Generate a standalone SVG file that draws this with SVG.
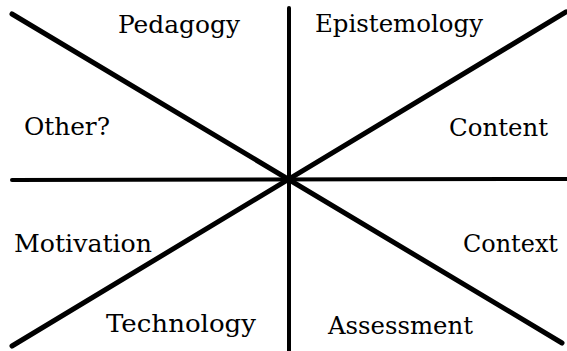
<svg xmlns="http://www.w3.org/2000/svg" width="567" height="351" viewBox="0 0 567 351">
<style>
.ln{stroke:#000;fill:none;stroke-linecap:round}
.ax{stroke-width:4}
.dg{stroke-width:5}
text{font-family:"DejaVu Serif","Liberation Serif",serif;font-size:25px;fill:#000}
</style>
<rect width="567" height="351" fill="#fff"/>
<g id="connectors">
<line class="ln ax" x1="289" y1="8" x2="289" y2="351"/>
<line class="ln ax" x1="12" y1="180" x2="567" y2="179"/>
<line class="ln dg" x1="12" y1="14" x2="562" y2="343"/>
<line class="ln dg" x1="566" y1="12" x2="12" y2="346"/>
</g>
<g id="pedagogy"><text x="118" y="33" textLength="122" lengthAdjust="spacingAndGlyphs">Pedagogy</text></g>
<g id="epistemology"><text x="315" y="32" textLength="168" lengthAdjust="spacingAndGlyphs">Epistemology</text></g>
<g id="other"><text x="24" y="135" textLength="86" lengthAdjust="spacingAndGlyphs">Other?</text></g>
<g id="content"><text x="449" y="136" textLength="99" lengthAdjust="spacingAndGlyphs">Content</text></g>
<g id="motivation"><text x="14" y="252" textLength="138" lengthAdjust="spacingAndGlyphs">Motivation</text></g>
<g id="context"><text x="463" y="252" textLength="95" lengthAdjust="spacingAndGlyphs">Context</text></g>
<g id="technology"><text x="106" y="332" textLength="150" lengthAdjust="spacingAndGlyphs">Technology</text></g>
<g id="assessment"><text x="328" y="334" textLength="145" lengthAdjust="spacingAndGlyphs">Assessment</text></g>
</svg>
